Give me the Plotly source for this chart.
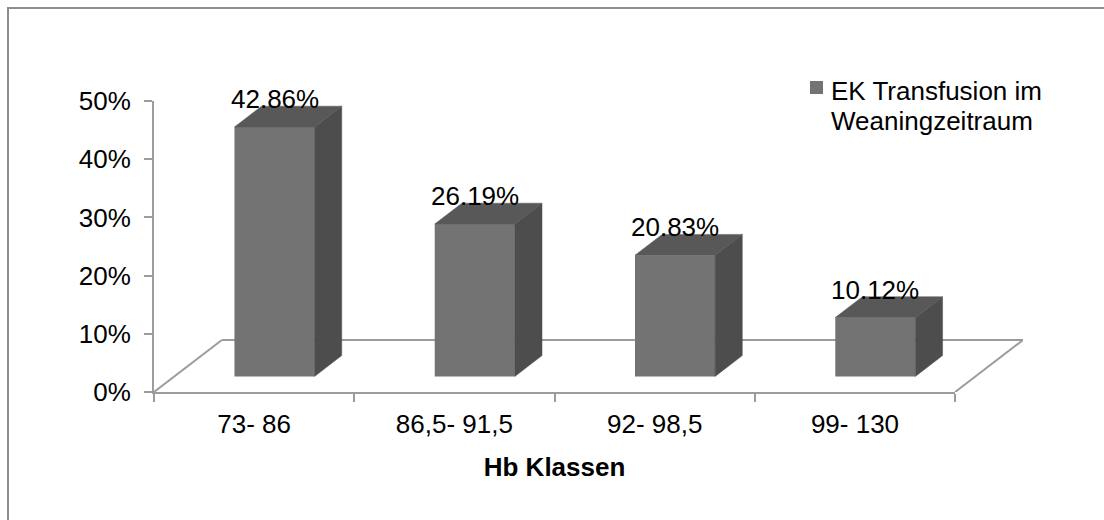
import plotly.graph_objects as go

# Hb-Klassen und Anteil der EK-Transfusionen im Weaningzeitraum
categories = ["73- 86", "86,5- 91,5", "92- 98,5", "99- 130"]
values = [42.86, 26.19, 20.83, 10.12]
y_tickvals = [0, 10, 20, 30, 40, 50]
y_ticktext = ["0%", "10%", "20%", "30%", "40%", "50%"]
series_name = ["EK Transfusion im", "Weaningzeitraum"]
x_title = "Hb Klassen"

# --- style ---------------------------------------------------------------
FONT = "Liberation Sans, Arial, sans-serif"
FRONT = "#737373"
SIDE = "#4d4d4d"
TOP = "#585858"
AXIS = "#9c9c9c"
BORDER = "#8e8e8e"

W, H = 1104, 520
ML, MR, MT, MB = 154, 81, 101, 128

# pseudo-3D depth of the floor (x in category units, y in percent)
DX = 0.339
DY = 8.93
BAR_W = 0.4
F0, F1 = 0.3, 0.7          # bar depth: front and back fraction of floor depth

n = len(categories)
xs = list(range(n))
x_hi = n - 0.5 + DX


def px_x(px):
    return (px - ML) / (W - ML - MR)


def px_y(py):
    return (H - MB - py) / (H - MT - MB)


fig = go.Figure()

# front faces
fig.add_trace(go.Bar(
    x=xs, y=values, base=F0 * DY,
    offset=-BAR_W / 2 + F0 * DX, width=BAR_W,
    marker=dict(color=FRONT, line=dict(width=0)),
    showlegend=False, hoverinfo="skip",
))

# side and top faces
ddx = (F1 - F0) * DX
ddy = (F1 - F0) * DY
side_x, side_y, top_x, top_y = [], [], [], []
for i, v in zip(xs, values):
    xl = i - BAR_W / 2 + F0 * DX
    xr = xl + BAR_W
    yb = F0 * DY
    yt = yb + v
    side_x += [xr, xr + ddx, xr + ddx, xr, xr, None]
    side_y += [yb, yb + ddy, yt + ddy, yt, yb, None]
    top_x += [xl, xr, xr + ddx, xl + ddx, xl, None]
    top_y += [yt, yt, yt + ddy, yt + ddy, yt, None]

fig.add_trace(go.Scatter(x=side_x, y=side_y, mode="lines", fill="toself",
                         fillcolor=SIDE, line=dict(color=SIDE, width=0.5),
                         showlegend=False, hoverinfo="skip"))
fig.add_trace(go.Scatter(x=top_x, y=top_y, mode="lines", fill="toself",
                         fillcolor=TOP, line=dict(color=TOP, width=0.5),
                         showlegend=False, hoverinfo="skip"))

# carrier trace for the category axis (front edge of the floor)
fig.add_trace(go.Scatter(x=[xs[0]], y=[None], xaxis="x2", mode="markers",
                         showlegend=False, hoverinfo="skip"))

# floor outline (behind the bars)
floor = [
    (-0.5, 0, -0.5 + DX, DY),
    (-0.5 + DX, DY, n - 0.5 + DX, DY),
    (n - 0.5, 0, n - 0.5 + DX, DY),
]
shapes = [dict(type="line", xref="x", yref="y", x0=a, y0=b, x1=c, y1=d,
               layer="below", line=dict(color=AXIS, width=2))
          for a, b, c, d in floor]

# chart frame (top and left edges)
shapes.append(dict(type="line", xref="paper", yref="paper",
                   x0=px_x(7), y0=px_y(8), x1=px_x(W + 5), y1=px_y(8),
                   line=dict(color=BORDER, width=2)))
shapes.append(dict(type="line", xref="paper", yref="paper",
                   x0=px_x(8), y0=px_y(7), x1=px_x(8), y1=px_y(H + 5),
                   line=dict(color=BORDER, width=2)))

# legend key
shapes.append(dict(type="rect", xref="paper", yref="paper",
                   x0=px_x(810), x1=px_x(823), y0=px_y(94), y1=px_y(81),
                   fillcolor=FRONT, line=dict(width=0)))

annotations = []
for i, v in zip(xs, values):
    annotations.append(dict(
        x=i + F0 * DX, y=v + F0 * DY, xref="x", yref="y",
        text=f"{v:.2f}%", showarrow=False, yshift=28,
        font=dict(family=FONT, size=26, color="black"),
    ))

for k, line in enumerate(series_name):
    annotations.append(dict(
        x=px_x(829), y=px_y(91 + 30 * k), xref="paper", yref="paper",
        xanchor="left", yanchor="middle", text=line, showarrow=False,
        font=dict(family=FONT, size=26, color="black"),
    ))

fig.update_layout(
    width=W, height=H,
    margin=dict(l=ML, r=MR, t=MT, b=MB, pad=0),
    paper_bgcolor="white", plot_bgcolor="rgba(0,0,0,0)",
    showlegend=False, hovermode=False,
    font=dict(family=FONT, size=26, color="black"),
    xaxis=dict(range=[-0.5, x_hi], domain=[0, 1], visible=False,
               fixedrange=True),
    xaxis2=dict(
        anchor="y", side="bottom",
        range=[-0.5, n - 0.5], domain=[0, n / (n + DX)],
        tickvals=xs, ticktext=categories,
        ticks="outside", ticklen=0, ticklabelstandoff=8,
        minor=dict(tickmode="array", tickvals=[i - 0.5 for i in range(n + 1)],
                   ticks="outside", ticklen=8, tickwidth=2, tickcolor=AXIS,
                   showgrid=False),
        showline=True, linecolor=AXIS, linewidth=2,
        showgrid=False, zeroline=False,
        tickfont=dict(family=FONT, size=26, color="black"),
        title=dict(text=f"<b>{x_title}</b>", standoff=20,
                   font=dict(family=FONT, size=26, color="black")),
        fixedrange=True,
    ),
    yaxis=dict(
        range=[0, 50], tickvals=y_tickvals, ticktext=y_ticktext,
        ticks="outside", ticklen=8, tickwidth=2, tickcolor=AXIS,
        showline=True, linecolor=AXIS, linewidth=2,
        showgrid=False, zeroline=False, ticklabelstandoff=8,
        tickfont=dict(family=FONT, size=26, color="black"),
        fixedrange=True,
    ),
    shapes=shapes,
    annotations=annotations,
)

fig.write_html("out.html")
